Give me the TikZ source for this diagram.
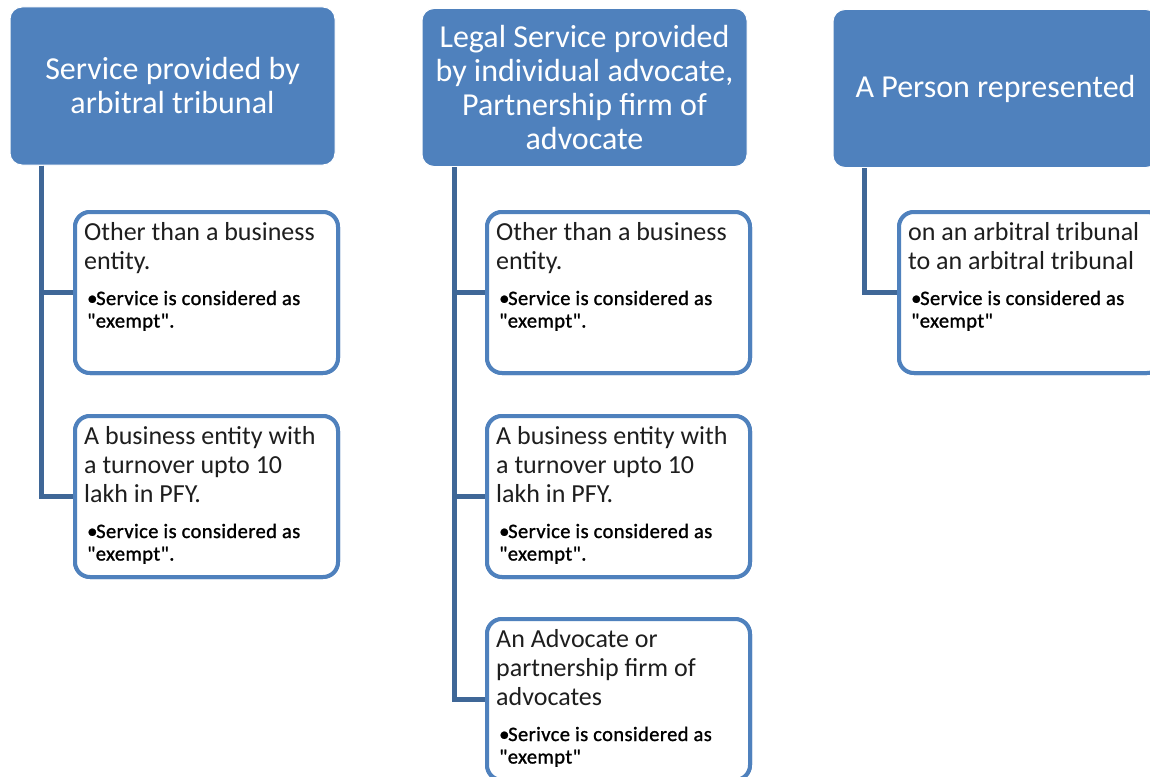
\documentclass[tikz,border=0pt]{standalone}
\usepackage{fontspec}
\setmainfont{Carlito}[Ligatures=TeXOff]
\newfontfamily\notefont{Carlito}[Ligatures=TeXOff, FakeBold=1.2, LetterSpace=2]
\usetikzlibrary{calc}
\definecolor{hdrblue}{HTML}{4F81BD}
\definecolor{linkblue}{HTML}{3F6797}
\definecolor{txtgray}{HTML}{1E1E1E}

\tikzset{
  header/.style={fill=hdrblue, draw=white, line width=1pt, rounded corners=12pt,
    minimum width=325pt, minimum height=158pt, text=white, align=center,
    font=\fontsize{32}{34}\selectfont, inner sep=0pt},
  childbox/.style={draw=hdrblue, fill=white, line width=4pt, rounded corners=15pt,
    minimum width=263pt, minimum height=161pt, inner sep=0pt},
  maintext/.style={anchor=base west, inner sep=0pt, text=txtgray,
    font=\fontsize{26}{29}\selectfont},
  bullettext/.style={anchor=base west, inner sep=0pt, text=black,
    font=\notefont\fontsize{20.5}{22.5}\selectfont},
  link/.style={draw=linkblue, line width=5pt},
}

% main line(s) of a child box
\newcommand{\mainpar}[1]{\parbox[t]{280pt}{\raggedright #1}}
% bulleted note with hanging indent
\newcommand{\notepar}[1]{\parbox[t]{260pt}{\raggedright\hangindent=8pt\hangafter=1
  \makebox[9pt][l]{\textbullet}#1}}

\begin{document}
\begin{tikzpicture}[x=1pt,y=-1pt]
\useasboundingbox (0,0) rectangle (1150,776);
\clip (0,0) rectangle (1150,776);

% headers
\node[header] (h1) at (172.5,86) {Service provided by\\arbitral tribunal};
\node[header] (h2) at (584.5,87.5) {Legal Service provided\\by individual advocate,\\Partnership firm of\\advocate};
\node[header] (h3) at (995.5,88.5) {A Person represented};

% child boxes
\node[childbox] (c11) at (206.5,292.5) {};
\node[childbox] (c12) at (206.5,496.5) {};
\node[childbox] (c21) at (618.5,292.5) {};
\node[childbox] (c22) at (618.5,496.5) {};
\node[childbox] (c23) at (618.5,699.5) {};
\node[childbox] (c31) at (1030.5,292.5) {};

% connectors
\coordinate (r1) at ($(h1.south west)+(32,0)$);
\coordinate (r2) at ($(h2.south west)+(33,0)$);
\coordinate (r3) at ($(h3.south west)+(32,0)$);
\draw[link] (r1) |- (c12.west);
\draw[link] (r1) |- (c11.west);
\draw[link] (r2) |- (c23.west);
\draw[link] (r2) |- (c22.west);
\draw[link] (r2) |- (c21.west);
\draw[link] (r3) |- (c31.west);

% redraw boxes above connector ends
\node[childbox] at (c11) {};
\node[childbox] at (c12) {};
\node[childbox] at (c21) {};
\node[childbox] at (c22) {};
\node[childbox] at (c23) {};
\node[childbox] at (c31) {};

% texts, column 1
\node[maintext] (t11) at ($(c11.north west)+(11,30)$) {\mainpar{Other than a business\\entity.}};
\node[bullettext] (n11) at ($(c11.north west)+(14,95)$) {\notepar{Service is considered as\\"exempt".}};
\node[maintext] (t12) at ($(c12.north west)+(11,30)$) {\mainpar{A business entity with\\a turnover upto 10\\lakh in PFY.}};
\node[bullettext] (n12) at ($(c12.north west)+(14,124)$) {\notepar{Service is considered as\\"exempt".}};

% texts, column 2
\node[maintext] (t21) at ($(c21.north west)+(11,30)$) {\mainpar{Other than a business\\entity.}};
\node[bullettext] (n21) at ($(c21.north west)+(14,95)$) {\notepar{Service is considered as\\"exempt".}};
\node[maintext] (t22) at ($(c22.north west)+(11,30)$) {\mainpar{A business entity with\\a turnover upto 10\\lakh in PFY.}};
\node[bullettext] (n22) at ($(c22.north west)+(14,124)$) {\notepar{Service is considered as\\"exempt".}};
\node[maintext] (t23) at ($(c23.north west)+(11,30)$) {\mainpar{An Advocate or\\partnership firm of\\advocates}};
\node[bullettext] (n23) at ($(c23.north west)+(14,124)$) {\notepar{Serivce is considered as\\"exempt"}};

% texts, column 3
\node[maintext] (t31) at ($(c31.north west)+(11,30)$) {\mainpar{on an arbitral tribunal\\to an arbitral tribunal}};
\node[bullettext] (n31) at ($(c31.north west)+(14,95)$) {\notepar{Service is considered as\\"exempt"}};
\end{tikzpicture}
\end{document}
